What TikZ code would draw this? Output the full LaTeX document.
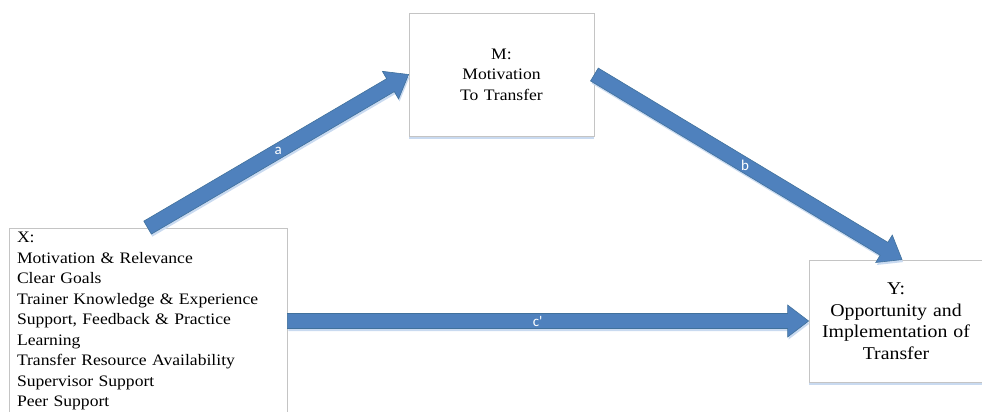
\documentclass[tikz,border=0pt]{standalone}
\usepackage{fontspec}
\setmainfont{Liberation Serif}[FakeStretch=1.1]
\newfontfamily\labelfont{Carlito}
\usetikzlibrary{calc,shadows}
\definecolor{arrowfill}{HTML}{4F81BD}
\definecolor{arrowedge}{HTML}{41719C}
\definecolor{shadowblue}{HTML}{C9DAF0}
\definecolor{boxedge}{HTML}{C4C4C4}

% block arrow with a straight shaft and a triangular head, from #1 to #2
\newcommand\blockarrow[2]{%
  \coordinate (ah) at ($(#2)!21pt!(#1)$);
  \fill[shadowblue, transform canvas={shift={(1pt,-2.5pt)}}]
    ($(#1)!7.5pt!90:(#2)$) -- ($(ah)!7.5pt!-90:(#1)$) -- ($(ah)!16pt!-90:(#1)$)
    -- (#2) -- ($(ah)!16pt!90:(#1)$) -- ($(ah)!7.5pt!90:(#1)$)
    -- ($(#1)!7.5pt!-90:(#2)$) -- cycle;
  \filldraw[fill=arrowfill, draw=arrowedge, line width=0.6pt, line join=miter]
    ($(#1)!7.5pt!90:(#2)$) -- ($(ah)!7.5pt!-90:(#1)$) -- ($(ah)!16pt!-90:(#1)$)
    -- (#2) -- ($(ah)!16pt!90:(#1)$) -- ($(ah)!7.5pt!90:(#1)$)
    -- ($(#1)!7.5pt!-90:(#2)$) -- cycle;
}

\begin{document}
\begin{tikzpicture}[x=1pt,y=-1pt,
  box/.style={draw=boxedge, line width=0.8pt, fill=white, inner sep=0pt,
    drop shadow={shadow xshift=0pt, shadow yshift=-3pt, fill=shadowblue, opacity=1},
    font=\fontsize{16}{20.5}\selectfont},
  arrowlabel/.style={text=white, font=\labelfont\fontsize{15}{15}\selectfont, inner sep=0pt}]

\useasboundingbox (0,0) rectangle (982,412);

% variable boxes
\node[box, minimum width=278pt, minimum height=186pt, text width=262pt, align=left]
  (X) at (148,321) {X:\\Motivation \& Relevance\\Clear Goals\\Trainer Knowledge \& Experience\\Support, Feedback \& Practice\\Learning\\Transfer Resource Availability\\Supervisor Support\\Peer Support};
\node[box, minimum width=185pt, minimum height=123pt, text width=170pt, align=center]
  (M) at (501.5,74.5) {M:\\Motivation\\To Transfer};
\node[box, minimum width=174pt, minimum height=122pt, text width=164pt, align=center,
  font=\fontsize{18}{21.5}\selectfont]
  (Y) at (896,321) {Y:\\Opportunity and\\Implementation of\\Transfer};

% arrow end points on the box borders
\coordinate (Xtop) at ($(X.north west)+(139,0)$);
\coordinate (Ytop) at ($(Y.north)+(6,0)$);

% paths a, b and c'
\blockarrow{Xtop}{M.west}
\blockarrow{M.east}{Ytop}
\blockarrow{X.east}{Y.west}

\path (Xtop) -- (M.west) node[arrowlabel, pos=0.5] (la) {a};
\path (M.east) -- (Ytop) node[arrowlabel, pos=0.49] (lb) {b};
\path (X.east) -- (Y.west) node[arrowlabel, pos=0.48] (lc) {c\textquotesingle};

\end{tikzpicture}
\end{document}
